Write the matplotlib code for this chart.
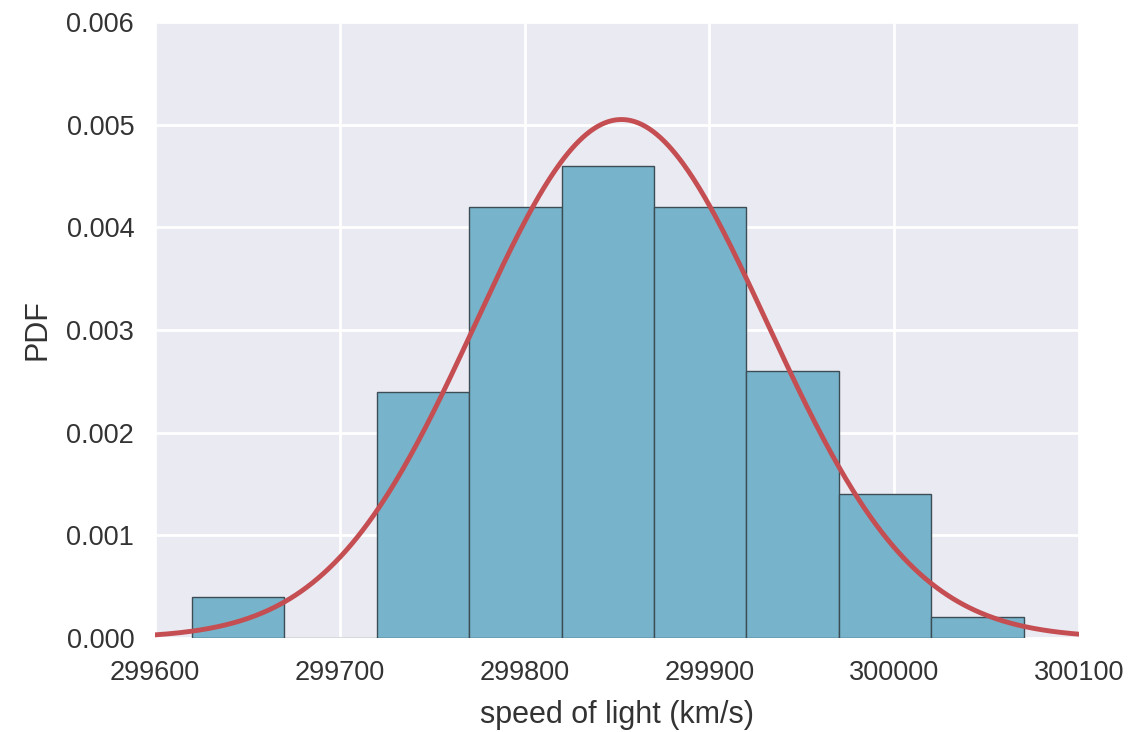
import numpy as np
import matplotlib
matplotlib.use("Agg")
import matplotlib.pyplot as plt

# histogram of speed-of-light measurements (km/s), normalized
bin_edges = [299620, 299670, 299720, 299770, 299820, 299870, 299920, 299970, 300020, 300070]
pdf_heights = [0.0004, 0.0, 0.0024, 0.0042, 0.0046, 0.0042, 0.0026, 0.0014, 0.0002]

# theoretical normal curve parameters
mu = 299852.4
sigma = 79.0

plt.rcParams['font.family'] = ['Liberation Sans', 'DejaVu Sans']

fig = plt.figure(figsize=(11.35, 7.32), dpi=100)
ax = fig.add_axes([0.1366, 0.1284, 0.8141, 0.8416])
ax.set_facecolor('#EAEAF2')
for s in ax.spines.values():
    s.set_visible(False)
ax.grid(True, color='white', linewidth=2)
ax.set_axisbelow(True)

widths = np.diff(bin_edges)
ax.bar(bin_edges[:-1], pdf_heights, width=widths, align='edge',
       color='#77B3CA', edgecolor='#3d4d55', linewidth=1.0, zorder=2)

x = np.linspace(299600, 300100, 500)
y = np.exp(-0.5 * ((x - mu) / sigma) ** 2) / (sigma * np.sqrt(2 * np.pi))
ax.plot(x, y, color='#C44E52', linewidth=3.5, zorder=3)

ax.set_xlim(299600, 300100)
ax.set_ylim(0, 0.006)
ax.set_xticks([299600, 299700, 299800, 299900, 300000, 300100])
ax.set_yticks([0.0, 0.001, 0.002, 0.003, 0.004, 0.005, 0.006])
ax.set_yticklabels(['0.000', '0.001', '0.002', '0.003', '0.004', '0.005', '0.006'])
ax.tick_params(length=0, labelsize=19.5, colors='#333333')
ax.tick_params(axis='x', pad=16)
ax.tick_params(axis='y', pad=15)
ax.set_xlabel('speed of light (km/s)', fontsize=22, color='#333333', labelpad=10)
ax.set_ylabel('PDF', fontsize=22, color='#333333', labelpad=10)

fig.savefig('out.png', dpi=100)
